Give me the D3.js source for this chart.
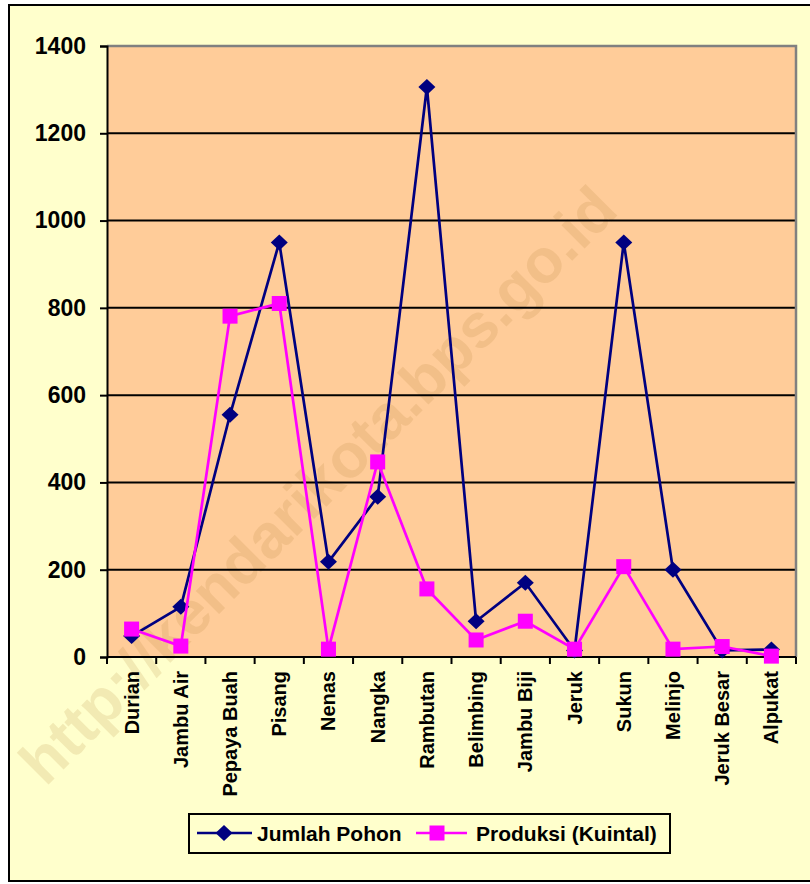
<!DOCTYPE html>
<html>
<head>
<meta charset="utf-8">
<script src="https://cdn.jsdelivr.net/npm/d3@7"></script>
<style>
  html, body { margin: 0; padding: 0; background: #ffffff; }
  svg { display: block; font-family: Arial, "Liberation Sans", sans-serif; }
</style>
</head>
<body>
<svg id="chart" width="810" height="884"></svg>
<script>
const categories = ["Durian","Jambu Air","Pepaya Buah","Pisang","Nenas","Nangka","Rambutan","Belimbing","Jambu Biji","Jeruk","Sukun","Melinjo","Jeruk Besar","Alpukat"];
const jumlahPohon = [48,115,555,950,218,367,1306,82,170,15,950,200,15,17];
const produksi = [64,25,781,810,18,447,156,39,82,18,207,18,24,2];
const yTicks = [0,200,400,600,800,1000,1200,1400];
const seriesNames = ["Jumlah Pohon","Produksi (Kuintal)"];
const watermark = "http://kendarikota.bps.go.id";

const svg = d3.select("#chart");
const W = 810, H = 884;
const plot = {left: 107, right: 796, top: 46, bottom: 657};

// outer frame
svg.append("rect").attr("x", 9).attr("y", 5).attr("width", W + 10).attr("height", 876)
  .attr("fill", "#FFFFCC").attr("stroke", "#000").attr("stroke-width", 2);

const x = d3.scaleBand().domain(categories).range([plot.left, plot.right]).padding(0);
const y = d3.scaleLinear().domain([0, 1400]).range([plot.bottom, plot.top]);

// plot background
svg.append("rect").attr("x", plot.left).attr("y", plot.top)
  .attr("width", plot.right - plot.left).attr("height", plot.bottom - plot.top)
  .attr("fill", "#FFCC99");

// watermark
svg.append("text")
  .attr("transform", "translate(333,500) rotate(-45)")
  .attr("text-anchor", "middle")
  .attr("font-size", 62).attr("font-weight", "bold")
  .attr("fill", "#B07A30").attr("fill-opacity", 0.16)
  .text(watermark);

// gridlines
svg.append("g").selectAll("line").data(yTicks.filter(d => d > 0 && d < 1400)).join("line")
  .attr("x1", plot.left).attr("x2", plot.right)
  .attr("y1", d => y(d)).attr("y2", d => y(d))
  .attr("stroke", "#000").attr("stroke-width", 2);

// gray top/right border
svg.append("path")
  .attr("d", `M${plot.left},${y(1400)}H${plot.right}V${plot.bottom}`)
  .attr("fill", "none").attr("stroke", "#808080").attr("stroke-width", 2.5);

// y axis
const yAxis = d3.axisLeft(y).tickValues(yTicks).tickSize(7).tickPadding(14).tickFormat(d3.format("d"));
const gy = svg.append("g").attr("transform", `translate(${plot.left},0)`).call(yAxis);
gy.select(".domain").attr("stroke", "#000").attr("stroke-width", 2);
gy.selectAll(".tick line").attr("stroke", "#000").attr("stroke-width", 2);
gy.selectAll(".tick text").attr("font-size", 23).attr("font-weight", "bold").attr("fill", "#000")
  .attr("font-family", "Arial, 'Liberation Sans', sans-serif");

// x axis: ticks at category boundaries
const gx = svg.append("g").attr("transform", `translate(0,${plot.bottom})`);
gx.append("line").attr("x1", plot.left).attr("x2", plot.right).attr("y1", 0).attr("y2", 0)
  .attr("stroke", "#000").attr("stroke-width", 2);
const bounds = categories.map(c => x(c)).concat([x(categories[categories.length-1]) + x.bandwidth()]);
gx.selectAll("line.tk").data(bounds).join("line").attr("class", "tk")
  .attr("x1", d => d).attr("x2", d => d).attr("y1", 0).attr("y2", 7)
  .attr("stroke", "#000").attr("stroke-width", 2);
gx.selectAll("text").data(categories).join("text")
  .attr("transform", d => `translate(${x(d) + x.bandwidth()/2},14) rotate(-90)`)
  .attr("dy", "0.35em")
  .attr("text-anchor", "end")
  .attr("font-size", 20).attr("font-weight", "bold").attr("fill", "#000")
  .text(d => d);

const cx = d => x(d) + x.bandwidth()/2;
const line = d3.line().x(d => cx(d.c)).y(d => y(d.v));

const dataJ = categories.map((c, i) => ({c, v: jumlahPohon[i]}));
const dataP = categories.map((c, i) => ({c, v: produksi[i]}));

const navy = "#000080", mag = "#FF00FF";
const diamondPath = "M0,-8L8.5,0L0,8L-8.5,0Z";

svg.append("path").datum(dataJ).attr("d", line).attr("fill", "none")
  .attr("stroke", navy).attr("stroke-width", 2.7);
svg.append("g").selectAll("path").data(dataJ).join("path")
  .attr("d", diamondPath)
  .attr("transform", d => `translate(${cx(d.c)},${y(d.v)})`)
  .attr("fill", navy);

svg.append("path").datum(dataP).attr("d", line).attr("fill", "none")
  .attr("stroke", mag).attr("stroke-width", 2.7);
svg.append("g").selectAll("rect").data(dataP).join("rect")
  .attr("x", d => cx(d.c) - 7.5).attr("y", d => y(d.v) - 7.5)
  .attr("width", 15).attr("height", 15).attr("fill", mag);

// legend
const lg = svg.append("g");
lg.append("rect").attr("x", 189).attr("y", 814).attr("width", 481).attr("height", 39)
  .attr("fill", "#FFFFCC").attr("stroke", "#000").attr("stroke-width", 2);
const ly = 833;
lg.append("line").attr("x1", 197).attr("x2", 252).attr("y1", ly).attr("y2", ly).attr("stroke", navy).attr("stroke-width", 2.7);
lg.append("path").attr("d", diamondPath).attr("transform", `translate(224,${ly})`).attr("fill", navy);
lg.append("text").attr("x", 257).attr("y", ly).attr("dy", "0.36em").attr("font-size", 21).attr("font-weight", "bold").text(seriesNames[0]);
lg.append("line").attr("x1", 416).attr("x2", 467).attr("y1", ly).attr("y2", ly).attr("stroke", mag).attr("stroke-width", 2.7);
lg.append("rect").attr("x", 437 - 7.5).attr("y", ly - 7.5).attr("width", 15).attr("height", 15).attr("fill", mag);
lg.append("text").attr("x", 476).attr("y", ly).attr("dy", "0.36em").attr("font-size", 21).attr("font-weight", "bold").text(seriesNames[1]);
</script>
</body>
</html>
